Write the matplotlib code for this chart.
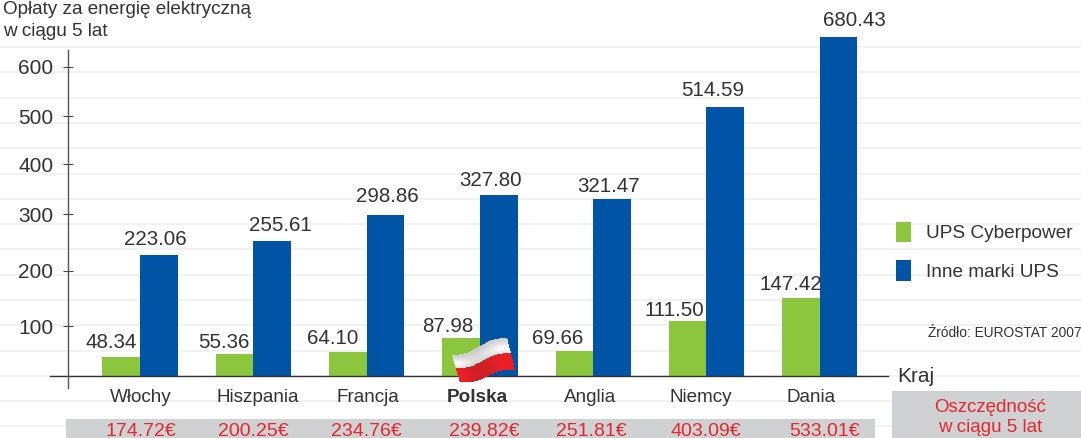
import numpy as np
import matplotlib
matplotlib.use('Agg')
import matplotlib.pyplot as plt

W, H = 1081, 438

countries = ['Włochy', 'Hiszpania', 'Francja', 'Polska', 'Anglia', 'Niemcy', 'Dania']
cyberpower = [48.34, 55.36, 64.10, 87.98, 69.66, 111.50, 147.42]
other_ups = [223.06, 255.61, 298.86, 327.80, 321.47, 514.59, 680.43]
savings = ['174.72€', '200.25€', '234.76€', '239.82€', '251.81€', '403.09€', '533.01€']
y_ticks = [100, 200, 300, 400, 500, 600]

# the printed axis is not linear: value -> height in px above the baseline
scale_values = [0, 48.34, 55.36, 64.1, 69.66, 87.98, 100, 111.5, 147.42, 200, 223.06,
                255.61, 298.86, 321.47, 327.8, 400, 500, 514.59, 600, 680.43, 700]
scale_heights = [0, 19, 22, 24, 25, 38, 50, 55, 78, 105, 121.5,
                 135.5, 161, 177, 181, 212, 260, 269, 309, 339, 346]

# label nudges in px (dx, dy) from the top of each bar
green_nudge = [(-10, 15), (-11, 12), (-15, 14), (-13, 12), (-17, 12), (-13, 11), (-10, 13)]
blue_nudge = [(-3, 15), (8, 15), (2, 19), (-8, 15), (-3, 13), (-13, 17), (16, 16)]
name_nudge = [1, 4, 1, -3, -3, -6, -9]
saving_nudge = [1, 0, 0, 4, -2, -1, 5]

GREEN = '#8cc63f'
BLUE = '#0054a6'
RED = '#e2282f'
GRAY = '#cfd1d3'
TEXT = '#333333'
GRID = '#f2f2f2'

plt.rcParams['font.family'] = ['Liberation Sans', 'DejaVu Sans']

fig = plt.figure(figsize=(W / 100, H / 100), dpi=100)

# --- Backdrop in px coordinates: stripes and grey boxes ---
bg = fig.add_axes([0, 0, 1, 1], zorder=0)
bg.set_xlim(0, W)
bg.set_ylim(H, 0)
bg.axis('off')
for y in np.arange(47, 430, 25.3):
    bg.axhline(y, color=GRID, lw=1.4, zorder=1)
bg.fill_between([66, 875], 419, H, color=GRAY, lw=0, zorder=2)
bg.fill_between([892, W], 391, H, color=GRAY, lw=0, zorder=2)

# --- Main chart ---
base_y = 376
left, right = 68, 888
top_h = scale_heights[-1]
ax = fig.add_axes([left / W, (H - base_y) / H, (right - left) / W, top_h / H], zorder=1)
ax.patch.set_alpha(0)


def forward(v):
    return np.interp(v, scale_values, scale_heights)


def inverse(h):
    return np.interp(h, scale_heights, scale_values)


ax.set_yscale('function', functions=(forward, inverse))
ax.set_ylim(0, 700)

x0, step, bar_w = 140, 113.3, 37.6
ax.set_xlim((left - x0) / step, (right - x0) / step)
x = np.arange(len(countries))
w = bar_w / step

bars_g = ax.bar(x - w / 2, cyberpower, w, color=GREEN, label='UPS Cyberpower')
bars_b = ax.bar(x + w / 2, other_ups, w, color=BLUE, label='Inne marki UPS')

for xpos, vals, nudges in [(x - w / 2, cyberpower, green_nudge),
                           (x + w / 2, other_ups, blue_nudge)]:
    for xi, v, (dx, dy) in zip(xpos, vals, nudges):
        ax.annotate(f'{v:.2f}', (xi, v), xytext=(dx, dy), textcoords='offset pixels',
                    ha='center', va='center', fontsize=14.8, color=TEXT, zorder=5)

for s in ax.spines.values():
    s.set_visible(False)
ax.set_yticks(y_ticks)
ax.set_yticks([], minor=True)
ax.set_xticks([])
ax.tick_params(axis='y', direction='inout', length=7, width=0.8, color='#444444',
               labelsize=15, labelcolor=TEXT, pad=7)

for xi, name, n, sv, sn in zip(x, countries, name_nudge, savings, saving_nudge):
    bold = name == 'Polska'
    ax.annotate(name, (xi, 0), xytext=(n, -21), textcoords='offset pixels', ha='center',
                va='center', fontsize=13.6, color=TEXT, annotation_clip=False,
                fontweight='bold' if bold else 'normal')
    ax.annotate(sv, (xi, 0), xytext=(sn, -55), textcoords='offset pixels', ha='center',
                va='center', fontsize=14, color=RED, annotation_clip=False)

# --- Overlay: axis lines, flag, free text ---
top = fig.add_axes([0, 0, 1, 1], zorder=2)
top.set_xlim(0, W)
top.set_ylim(H, 0)
top.axis('off')
top.plot([50, 888], [base_y, base_y], color='#333333', lw=1.0, zorder=1)
top.plot([68, 68], [50, 388], color='#555555', lw=1.0, zorder=1)

# waving flag, white over red, shaded along its length
u, v = np.meshgrid(np.linspace(0, 1, 60), np.linspace(0, 1, 30))
fx = 452 + 55 * u + 8 * v
fy = 355 - 17 * u + 27 * v + 5 * u * v + 2.5 * np.sin(u * 2 * np.pi)
uc, vc = u[:-1, :-1], v[:-1, :-1]
sc = 0.5 + 0.5 * np.cos(uc * 2 * np.pi * 1.1 + 0.2)
is_white = vc < 0.47
grey = 0.78 + 0.22 * np.clip(1 - np.abs(vc - 0.3) * 3, 0, 1) * (0.4 + 0.6 * sc)
rgb = np.zeros(uc.shape + (3,))
rgb[..., 0] = np.where(is_white, grey, 0.93 - 0.12 * (1 - sc))
rgb[..., 1] = np.where(is_white, grey, 0.12)
rgb[..., 2] = np.where(is_white, grey, 0.15)
top.pcolormesh(fx, fy, rgb, shading='flat', zorder=3)

top.text(3, 10, 'Opłaty za energię elektryczną', fontsize=13.6, color=TEXT, va='center')
top.text(3, 31, 'w ciągu 5 lat', fontsize=13.6, color=TEXT, va='center')
top.text(897, 377, 'Kraj', fontsize=15, color=TEXT, va='center')
top.text(928, 333, 'Źródło: EUROSTAT 2007', fontsize=9.9, color=TEXT, va='center')
top.text(990, 408, 'Oszczędność', fontsize=13.5, color=RED, ha='center', va='center')
top.text(990, 428, 'w ciągu 5 lat', fontsize=13.5, color=RED, ha='center', va='center')

fig.legend(handles=[bars_g, bars_b], loc='upper left', bbox_to_anchor=(888 / W, 1 - 214 / H),
           frameon=False, fontsize=13.7, labelcolor=TEXT, handlelength=0.79, handleheight=1.3,
           labelspacing=0.95, handletextpad=0.8, borderpad=0.4, borderaxespad=0)

fig.savefig('out.png', dpi=100)
print('Saved out.png')
